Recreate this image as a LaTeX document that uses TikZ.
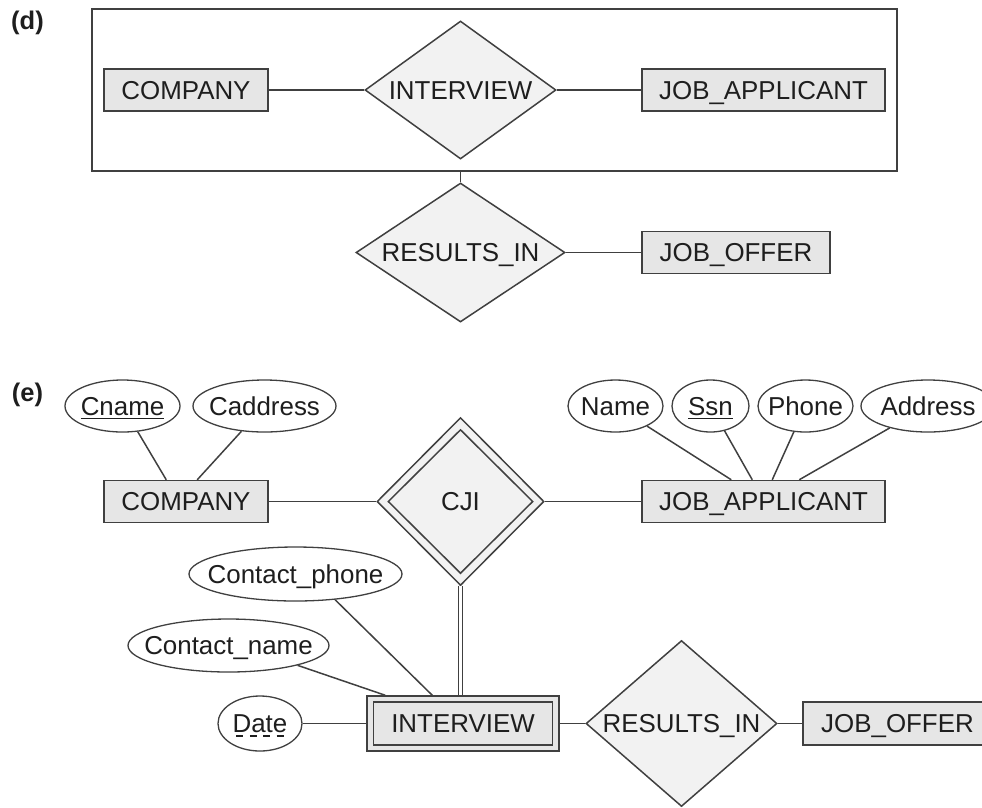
\documentclass[tikz,border=0pt]{standalone}
\usepackage{fontspec}
\setmainfont{Liberation Sans}
\usetikzlibrary{shapes.geometric}
\definecolor{edgecol}{HTML}{404040}
\definecolor{entfill}{HTML}{E6E6E6}
\definecolor{relfill}{HTML}{F2F2F2}
\definecolor{txtcol}{HTML}{1E1E1E}
\newcommand{\erzero}[1]{\makebox[0pt]{#1}}
\newcommand{\erkey}[1]{\setbox0\hbox{#1}\rlap{\rule[-4pt]{\wd0}{1.4pt}}\box0}
\newcommand{\erpkey}[1]{\setbox0\hbox{#1}\rlap{\raisebox{-4pt}{\hbox to \wd0{\xleaders\hbox to 12pt{\hss\rule{7pt}{1.4pt}\hss}\hfill}}}\box0}
\begin{document}
\begin{tikzpicture}[x=1pt,y=-1pt,
  font=\fontsize{25.9}{30}\selectfont,
  base/.style={inner sep=0pt, text height=18.5pt, text depth=0pt, text=txtcol, draw=edgecol},
  ent/.style={base, rectangle, fill=entfill, line width=1.5pt},
  rel/.style={base, diamond, fill=relfill, line width=1.5pt},
  attr/.style={base, ellipse, fill=white, line width=1.3pt},
  aggbox/.style={rectangle, draw=edgecol, line width=1.6pt, inner sep=0pt},
  tag/.style={font=\bfseries\fontsize{25.5}{30}\selectfont, text=txtcol, inner sep=0pt},
  conn/.style={draw=edgecol, line width=1.5pt},
  dconn/.style={draw=edgecol, line width=1.3pt, double=white, double distance=3pt}]
\useasboundingbox (0,0) rectangle (982,807);
\clip (0,0) rectangle (982,807);
% ---------------- (d) ----------------
\node[tag] (labd) at (27.5,23) {(d)};
\node[aggbox, minimum width=805pt, minimum height=162pt] (agg) at (494.5,90) {};
\node[ent, minimum width=164pt, minimum height=42pt] (comd) at (186,90) {\erzero{COMPANY}};
\node[rel, minimum width=191pt, minimum height=138pt] (intd) at (460.5,90) {\erzero{INTERVIEW}};
\node[ent, minimum width=243pt, minimum height=42pt] (jad) at (763.5,90) {\erzero{JOB\_APPLICANT}};
\node[rel, minimum width=209pt, minimum height=139pt] (rid) at (460.5,252.5) {\erzero{RESULTS\_IN}};
\node[ent, minimum width=188pt, minimum height=42pt] (jod) at (736,252.5) {\erzero{JOB\_OFFER}};
\draw[conn] (comd.east) -- (intd.west);
\draw[conn] (intd.east) -- (jad.west);
\draw[conn] (agg.south -| rid.north) -- (rid.north);
\draw[conn] (rid.east) -- (jod.west);
% ---------------- (e) ----------------
\node[tag] (labe) at (27.5,395) {(e)};
\node[attr, minimum width=115pt, minimum height=52pt] (cname) at (122.5,406) {\erzero{\erkey{Cname}}};
\node[attr, minimum width=143pt, minimum height=52pt] (caddr) at (264.5,406) {\erzero{Caddress}};
\node[ent, minimum width=164pt, minimum height=42pt] (come) at (186,501.5) {\erzero{COMPANY}};
\node[rel, minimum width=167pt, minimum height=168pt] (cjio) at (460.5,501.5) {};
\node[rel, minimum width=145pt, minimum height=144pt] (cji) at (460.5,501.5) {\erzero{CJI}};
\node[ent, minimum width=243pt, minimum height=42pt] (jae) at (763.5,501.5) {\erzero{JOB\_APPLICANT}};
\node[attr, minimum width=95pt, minimum height=52pt] (aname) at (615.5,406) {\erzero{Name}};
\node[attr, minimum width=77pt, minimum height=52pt] (assn) at (710.5,406) {\erzero{\erkey{Ssn}}};
\node[attr, minimum width=95pt, minimum height=52pt] (aphone) at (805.5,406) {\erzero{Phone}};
\node[attr, minimum width=134pt, minimum height=52pt] (aaddr) at (928,406) {\erzero{Address}};
\node[attr, minimum width=213pt, minimum height=54pt] (cphone) at (295.5,574) {\erzero{Contact\_phone}};
\node[attr, minimum width=201pt, minimum height=53pt] (cnm) at (228.5,645.5) {\erzero{Contact\_name}};
\node[attr, minimum width=84pt, minimum height=55pt] (date) at (260,723.5) {\erzero{\erpkey{Date}}};
\node[ent, minimum width=192pt, minimum height=55pt] (ivo) at (463,723.5) {};
\node[ent, minimum width=179pt, minimum height=43pt] (iv) at (463,723.5) {\erzero{INTERVIEW}};
\node[rel, minimum width=191pt, minimum height=166pt] (rie) at (681.5,723.5) {\erzero{RESULTS\_IN}};
\node[ent, minimum width=189pt, minimum height=43pt] (joe) at (897.5,723.5) {\erzero{JOB\_OFFER}};
\draw[conn] (cname) -- ([xshift=63pt]come.north west);
\draw[conn] (caddr) -- ([xshift=94pt]come.north west);
\draw[conn] (come.east) -- (cjio.west);
\draw[conn] (cjio.east) -- (jae.west);
\draw[conn] (aname) -- ([xshift=90pt]jae.north west);
\draw[conn] (assn) -- ([xshift=111pt]jae.north west);
\draw[conn] (aphone) -- ([xshift=131pt]jae.north west);
\draw[conn] (aaddr) -- ([xshift=158pt]jae.north west);
\draw[conn] (cphone.-33) -- ([xshift=66pt]ivo.north west);
\draw[conn] (cnm.-16) -- ([xshift=19pt]ivo.north west);
\draw[dconn] (cjio.south) -- (cjio.south |- ivo.north);
\draw[conn] (date.east) -- (ivo.west);
\draw[conn] (ivo.east) -- (rie.west);
\draw[conn] (rie.east) -- (joe.west);
\end{tikzpicture}
\end{document}
